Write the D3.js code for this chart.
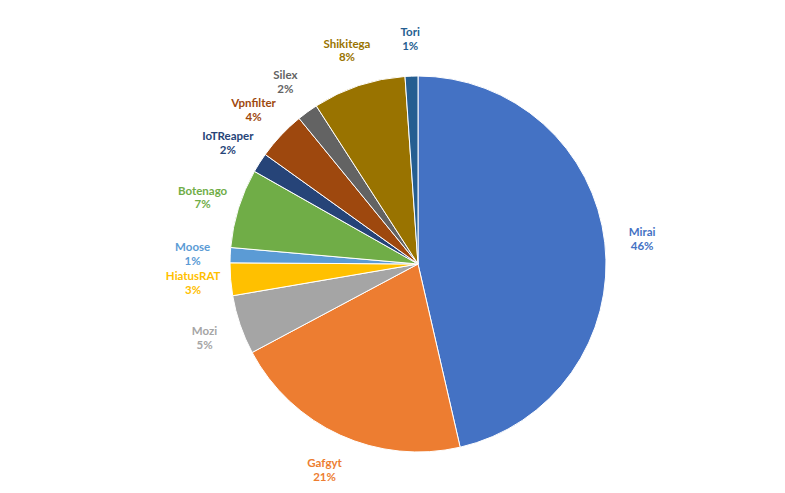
<!DOCTYPE html>
<html><head><meta charset="utf-8">
<script src="https://cdn.jsdelivr.net/npm/d3@7"></script>
<style>body{margin:0;background:#fff}</style></head>
<body><svg id="c" width="785" height="493"></svg>
<script>
const names = ["Mirai","Gafgyt","Mozi","HiatusRAT","Moose","Botenago","IoTReaper","Vpnfilter","Silex","Shikitega","Tori"];
const values = [46.4,20.8,5.1,2.8,1.3,6.8,1.7,4.2,1.8,8,1.1];
const labels = ["46%","21%","5%","3%","1%","7%","2%","4%","2%","8%","1%"];
const colors = ["#4472C4","#ED7D31","#A5A5A5","#FFC000","#5B9BD5","#70AD47","#264478","#9E480E","#636363","#997300","#255E91"];

const svg = d3.select("#c");
const cx = 418, cy = 264, r = 188;
const data = names.map((n,i)=>({name:n,value:values[i],label:labels[i],color:colors[i]}));
const pie = d3.pie().sort(null).value(d=>d.value);
const arc = d3.arc().innerRadius(0).outerRadius(r);
const g = svg.append("g").attr("transform",`translate(${cx},${cy})`);
const arcs = pie(data);
g.selectAll("path").data(arcs).enter().append("path")
  .attr("d",arc).attr("fill",d=>d.data.color).attr("stroke","#fff").attr("stroke-width",1);

const lab = d3.arc().innerRadius(r*1.2).outerRadius(r*1.2);
const t = g.selectAll("text").data(arcs).enter().append("text")
  .attr("transform",d=>`translate(${lab.centroid(d)})`)
  .attr("text-anchor","middle")
  .attr("font-family","Lato, 'Open Sans', sans-serif")
  .attr("font-weight","bold").attr("font-size",11.5)
  .attr("fill",d=>d.data.color);
t.append("tspan").attr("x",0).attr("dy","-0.2em").text(d=>d.data.name);
t.append("tspan").attr("x",0).attr("dy","1.2em").text(d=>d.data.label);
</script></body></html>
